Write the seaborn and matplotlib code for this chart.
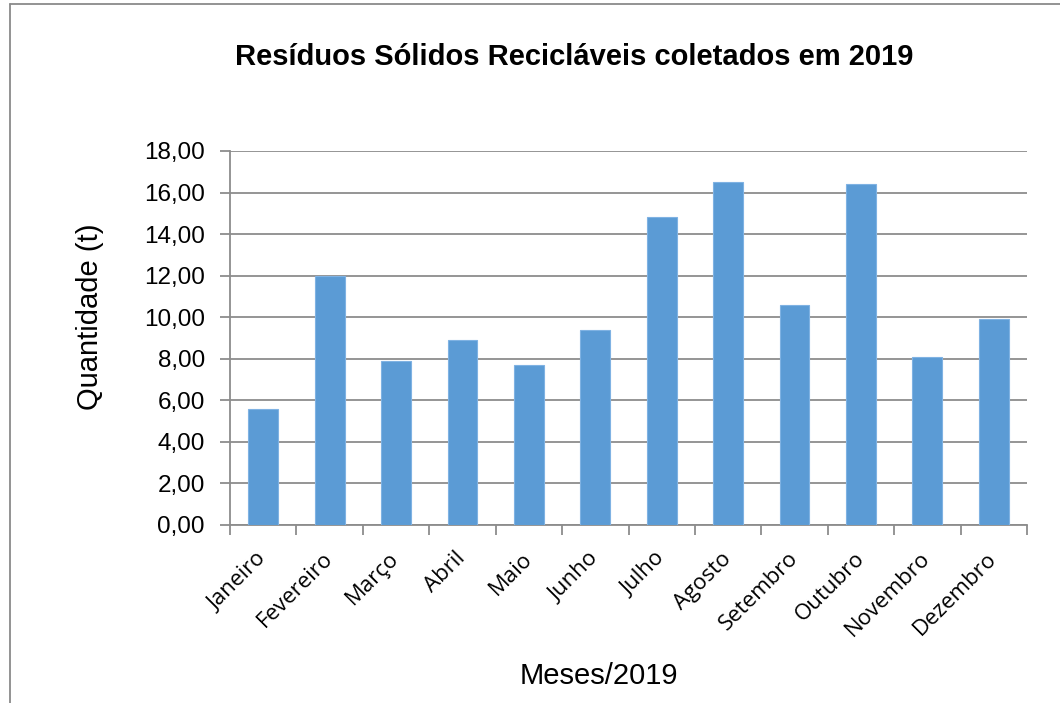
import matplotlib
matplotlib.use("Agg")
import matplotlib.pyplot as plt
from matplotlib.lines import Line2D
from matplotlib.ticker import FuncFormatter, FixedLocator
import seaborn as sns
import pandas as pd

# Monthly recyclable solid waste collected in 2019 (tonnes)
months = ["Janeiro", "Fevereiro", "Março", "Abril", "Maio", "Junho",
          "Julho", "Agosto", "Setembro", "Outubro", "Novembro", "Dezembro"]
tonnes = [5.6, 12.0, 7.9, 8.9, 7.7, 9.4, 14.8, 16.5, 10.6, 16.4, 8.1, 9.9]
y_ticks = [0, 2, 4, 6, 8, 10, 12, 14, 16, 18]

title = "Resíduos Sólidos Recicláveis coletados em 2019"
x_title = "Meses/2019"
y_title = "Quantidade (t)"

df = pd.DataFrame({"mes": months, "quantidade": tonnes})

sns.set_theme(style="white")
plt.rcParams["font.family"] = ["Liberation Sans", "DejaVu Sans"]
plt.rcParams.update({"text.color": "black", "axes.labelcolor": "black",
                     "xtick.color": "black", "ytick.color": "black"})

W, H = 1060, 703
fig = plt.figure(figsize=(W / 100, H / 100), dpi=100)
ax = fig.add_axes([230 / W, 1 - 525 / H, (1027 - 230) / W, (525 - 151) / H])

grid_col = "#8c8c8c"
sns.barplot(data=df, x="mes", y="quantidade", color="#5B9BD5",
            saturation=1, width=0.45, edgecolor="#7fb2e3", linewidth=0.8,
            ax=ax, zorder=3)

ax.set_ylim(0, 18)
ax.set_xlim(-0.5, len(months) - 0.5)
ax.yaxis.set_major_locator(FixedLocator(y_ticks))
ax.yaxis.set_major_formatter(FuncFormatter(lambda v, p: f"{v:.2f}".replace(".", ",")))
ax.grid(axis="y", color=grid_col, linewidth=1.3, zorder=0)
ax.set_axisbelow(True)

for side in ("top", "right"):
    ax.spines[side].set_visible(False)
for side in ("left", "bottom"):
    ax.spines[side].set_color(grid_col)
    ax.spines[side].set_linewidth(1.3)

ax.tick_params(axis="y", which="major", left=True, length=7, width=1.3,
               color=grid_col, pad=11, labelsize=17.5, labelcolor="black")

# boundary tick marks between categories, labels at category centres
ax.set_xticks([i - 0.5 for i in range(len(months) + 1)], minor=True)
ax.tick_params(axis="x", which="minor", bottom=True, length=7, width=1.3, color=grid_col)
ax.tick_params(axis="x", which="major", bottom=False, length=0, pad=22, labelcolor="black")
ax.set_xticks(range(len(months)))
ax.set_xticklabels(months, rotation=45, ha="right", va="center",
                   rotation_mode="anchor", fontsize=16,
                   family=["Open Sans", "DejaVu Sans"])

ax.set_xlabel(x_title, fontsize=21, color="black")
ax.xaxis.label.set_va("center")
ax.xaxis.set_label_coords((599 - 230) / 797, (525 - 676) / 374)
ax.set_ylabel(y_title, fontsize=21, color="black")
ax.yaxis.label.set_va("center")
ax.yaxis.set_label_coords((90 - 230) / 797, (525 - 317) / 374)

fig.suptitle(title, x=574.5 / W, y=1 - 57 / H, ha="center", va="center",
             fontsize=21, fontweight="bold", color="black")

# chart area frame
frame_col = "#8a8a8a"
fig.add_artist(Line2D([10 / W, 10 / W], [0, 1 - 4 / H], transform=fig.transFigure,
                      color=frame_col, linewidth=1.3))
fig.add_artist(Line2D([10 / W, 1], [1 - 4 / H, 1 - 4 / H], transform=fig.transFigure,
                      color=frame_col, linewidth=1.3))

fig.savefig("out.png", dpi=100, facecolor="white")
